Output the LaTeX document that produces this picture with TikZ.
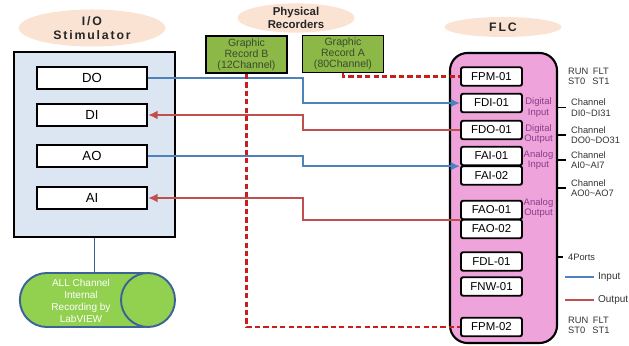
\documentclass[tikz,border=0pt]{standalone}
\usepackage{fontspec}
\setmainfont{Liberation Sans}
\usetikzlibrary{positioning,arrows.meta,shapes.geometric,shapes.misc}
\definecolor{peach}{HTML}{FBE3D4}
\definecolor{stimblue}{HTML}{DCE6F2}
\definecolor{recgreen}{HTML}{8CB848}
\definecolor{recgray}{HTML}{3B4A2E}
\definecolor{flcpink}{HTML}{EFA3DB}
\definecolor{modpurple}{HTML}{8B3C8B}
\definecolor{inblue}{HTML}{4F81BD}
\definecolor{outred}{HTML}{C0504D}
\definecolor{dashred}{HTML}{C81E1E}
\definecolor{pillgreen}{HTML}{92D050}
\definecolor{pillblue}{HTML}{3A6496}

\begin{document}
\begin{tikzpicture}[x=0.2mm, y=-0.2mm,
    heading/.style={ellipse, fill=peach, inner sep=0pt, align=center, text=black!85,
        font=\fontsize{7}{8}\selectfont\bfseries\addfontfeatures{LetterSpace=15}},
    iobox/.style={rectangle, draw, line width=1.3pt, fill=white, minimum width=22mm,
        minimum height=4.4mm, inner sep=0pt, font=\fontsize{7.5}{8}\selectfont},
    module/.style={rectangle, draw, line width=1.1pt, rounded corners=1.2pt, fill=white,
        minimum width=12.2mm, minimum height=3.7mm, inner sep=0pt, font=\fontsize{6.5}{7}\selectfont},
    recorder/.style={rectangle, draw, line width=1pt, fill=recgreen, minimum width=16.2mm,
        minimum height=7.4mm, inner sep=0pt, align=center, text=recgray, font=\fontsize{6}{6.3}\selectfont},
    modlabel/.style={align=center, text=modpurple, inner sep=0pt, font=\fontsize{5.4}{5.8}\selectfont},
    sidetext/.style={anchor=west, align=left, inner sep=1pt, text=black!80, font=\fontsize{5.3}{5.9}\selectfont},
    sigin/.style={draw=inblue, line width=1.2pt, -{Latex[length=1.9mm,width=1.8mm]}},
    sigout/.style={draw=outred, line width=1.2pt, -{Latex[length=1.9mm,width=1.8mm]}},
    recwire/.style={draw=dashred, line width=1.3pt, dash pattern=on 3pt off 1.8pt},
    tick/.style={line width=0.9pt, shorten >=0.7mm}]

\useasboundingbox (0,0) rectangle (629,346);

\node[heading, minimum width=29.4mm, minimum height=7.4mm] (iotitle) at (92,28) {I/O\\Stimulator};
\node[heading, minimum width=23.4mm, minimum height=5.4mm, font=\fontsize{6.5}{7}\selectfont\bfseries] (rectitle) at (296,18) {Physical\\Recorders};
\node[heading, minimum width=23.4mm, minimum height=4mm] (flctitle) at (503,27) {FLC};

\node[draw, line width=1.2pt, fill=stimblue, minimum width=32.2mm, minimum height=37mm] (stim) at (94.5,144.5) {};
\node[iobox] (do) at (92,78) {DO};
\node[iobox] (di) at (92,115) {DI};
\node[iobox] (ao) at (92,156) {AO};
\node[iobox] (ai) at (92,198) {AI};

\draw[pillblue, line width=0.5pt] (stim) -- (94.5,273) coordinate (pilltop);
\node[rounded rectangle, draw=pillblue, line width=1.1pt, fill=pillgreen, minimum width=32.2mm, minimum height=10.8mm] (pill) at (94.5,300) {};
\node[circle, draw=pillblue, line width=1.1pt, fill=pillgreen, minimum size=10.8mm, inner sep=0pt] (pillend) at (148,300) {};
\node[text=white, align=center, font=\fontsize{5.7}{6.7}\selectfont] (pilltext) at (81,301) {ALL Channel\\Internal\\Recording by\\LabVIEW};

\node[recorder] (recb) at (246.5,54.5) {Graphic\\Record B\\(12Channel)};
\node[recorder] (reca) at (343,54) {Graphic\\Record A\\(80Channel)};

\node[draw, line width=1.2pt, fill=flcpink, rounded corners=3.5mm, minimum width=21.4mm, minimum height=58mm] (flc) at (503.5,198) {};
\node[module] (fpm1) at (491.5,76.5) {FPM-01};
\node[module] (fdi) at (491.5,103) {FDI-01};
\node[module] (fdo) at (491.5,130) {FDO-01};
\node[module] (fai1) at (491.5,156) {FAI-01};
\node[module] (fai2) at (491.5,175.5) {FAI-02};
\node[module] (fao1) at (491.5,210) {FAO-01};
\node[module] (fao2) at (491.5,229) {FAO-02};
\node[module] (fdl) at (491.5,261.5) {FDL-01};
\node[module] (fnw) at (491.5,286.5) {FNW-01};
\node[module] (fpm2) at (491.5,327) {FPM-02};

\node[modlabel] (dilabel) at (538.5,107.5) {Digital\\Input};
\node[modlabel] (dolabel) at (538.5,134) {Digital\\Output};
\node[modlabel] (ailabel) at (538.5,160) {Analog\\Input};
\node[modlabel] (aolabel) at (538.5,208) {Analog\\Output};

\node[sidetext] (runtop) at (566,76.5) {RUN\enspace FLT\\ST0\enspace\ ST1};
\node[sidetext] (dichan) at (569,107.5) {Channel\\DI0\textasciitilde DI31};
\node[sidetext] (dochan) at (569,135) {Channel\\DO0\textasciitilde DO31};
\node[sidetext] (aichan) at (569,160) {Channel\\AI0\textasciitilde AI7};
\node[sidetext] (aochan) at (569,188) {Channel\\AO0\textasciitilde AO7};
\node[sidetext] (ports) at (566,257) {4Ports};
\node[sidetext] (runbot) at (566,325.5) {RUN\enspace FLT\\ST0\enspace\ ST1};

\draw[tick] (dichan.west -| flc.east) -- (dichan.west);
\draw[tick] (dochan.west -| flc.east) -- (dochan.west);
\draw[tick] (aichan.west -| flc.east) -- (aichan.west);
\draw[tick] (aochan.west -| flc.east) -- (aochan.west);
\draw[tick] (ports.west -| flc.east) -- (ports.west);

\node[sidetext, font=\fontsize{5.7}{6}\selectfont] (inkey) at (596,277) {Input};
\node[sidetext, font=\fontsize{5.7}{6}\selectfont] (outkey) at (596,300) {Output};
\draw[inblue, line width=1.4pt] (inkey.west) ++(-2,0) -- ++(-29,0);
\draw[outred, line width=1.4pt] (outkey.west) ++(-2,0) -- ++(-29,0);

\coordinate (bend) at (303,0);
\draw[sigin] (do.east) -- (do.east -| bend) |- (fdi.west);
\draw[sigout] (fdo.west) -- (fdo.west -| bend) |- (di.east);
\draw[sigin] (ao.east) -- (ao.east -| bend) |- (fai1.south west);
\draw[sigout] (fao1.south west) -- (fao1.south west -| bend) |- (ai.east);
\draw[recwire] (reca.south) |- (fpm1.west);
\draw[recwire] (recb.south) |- (fpm2.west);
\end{tikzpicture}
\end{document}
